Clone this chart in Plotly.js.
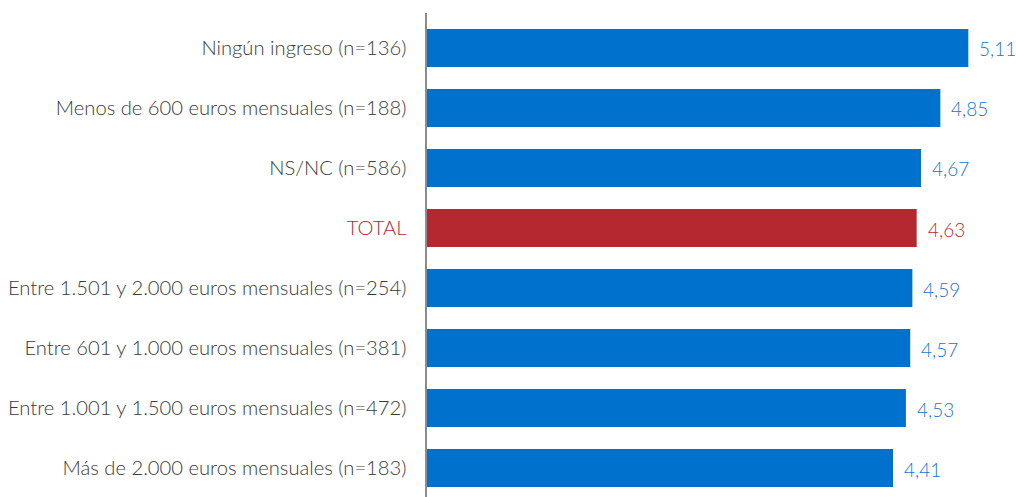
<!DOCTYPE html>
<html>
<head>
<meta charset="utf-8">
<script src="https://cdn.plot.ly/plotly-3.0.1.min.js"></script>
<style>html,body{margin:0;padding:0;background:#fff;}#chart{width:1016px;height:497px;}</style>
</head>
<body>
<div id="chart"></div>
<script>
const categories = [
  "Ningún ingreso (n=136)",
  "Menos de 600 euros mensuales (n=188)",
  "NS/NC (n=586)",
  "TOTAL",
  "Entre 1.501 y 2.000 euros mensuales (n=254)",
  "Entre 601 y 1.000 euros mensuales (n=381)",
  "Entre 1.001 y 1.500 euros mensuales (n=472)",
  "Más de 2.000 euros mensuales (n=183)"
];
const values = [5.11, 4.85, 4.67, 4.63, 4.59, 4.57, 4.53, 4.41];
const valueLabels = ["5,11", "4,85", "4,67", "4,63", "4,59", "4,57", "4,53", "4,41"];
const highlight = "TOTAL";

const BLUE = "#0072CE", RED = "#B5282F";
const BLUE_TXT = "#1874D0", RED_TXT = "#B5282F";

const barColors = categories.map(c => c === highlight ? RED : BLUE);
const tickText = categories.map(c => c === highlight
  ? `<span style="fill:${RED_TXT}">${c}</span>` : c);

const trace = {
  type: "bar",
  orientation: "h",
  y: categories,
  x: values,
  width: 0.633,
  marker: {color: barColors, line: {width: 0}},
  hoverinfo: "none"
};

const annotations = categories.map((c, i) => ({
  x: values[i], y: c, xref: "x", yref: "y",
  text: valueLabels[i], showarrow: false,
  xanchor: "left", yanchor: "middle", xshift: 9, yshift: -1,
  font: {family: "Lato, sans-serif", size: 19, weight: 300, color: c === highlight ? RED_TXT : BLUE_TXT}
}));

const layout = {
  width: 1016, height: 497,
  margin: {l: 427, r: 10, t: 13, b: 0, pad: 0},
  paper_bgcolor: "#fff", plot_bgcolor: "#fff",
  showlegend: false,
  font: {family: "Lato, sans-serif", size: 20, color: "#3a3a3a"},
  xaxis: {range: [0.08, 5.46], visible: false, showgrid: false, zeroline: false, fixedrange: true},
  yaxis: {
    type: "category",
    range: [7.483, -0.583],
    tickmode: "array", tickvals: categories, ticktext: tickText,
    showline: true, linecolor: "#8C8C8C", linewidth: 2.5,
    ticks: "", ticklabelstandoff: 14,
    showgrid: false, zeroline: false, fixedrange: true,
    tickfont: {family: "Lato, sans-serif", size: 20.2, weight: 300, color: "#3a3a3a"}
  },
  annotations: annotations
};

Plotly.newPlot("chart", [trace], layout, {displayModeBar: false, staticPlot: true});
</script>
</body>
</html>
